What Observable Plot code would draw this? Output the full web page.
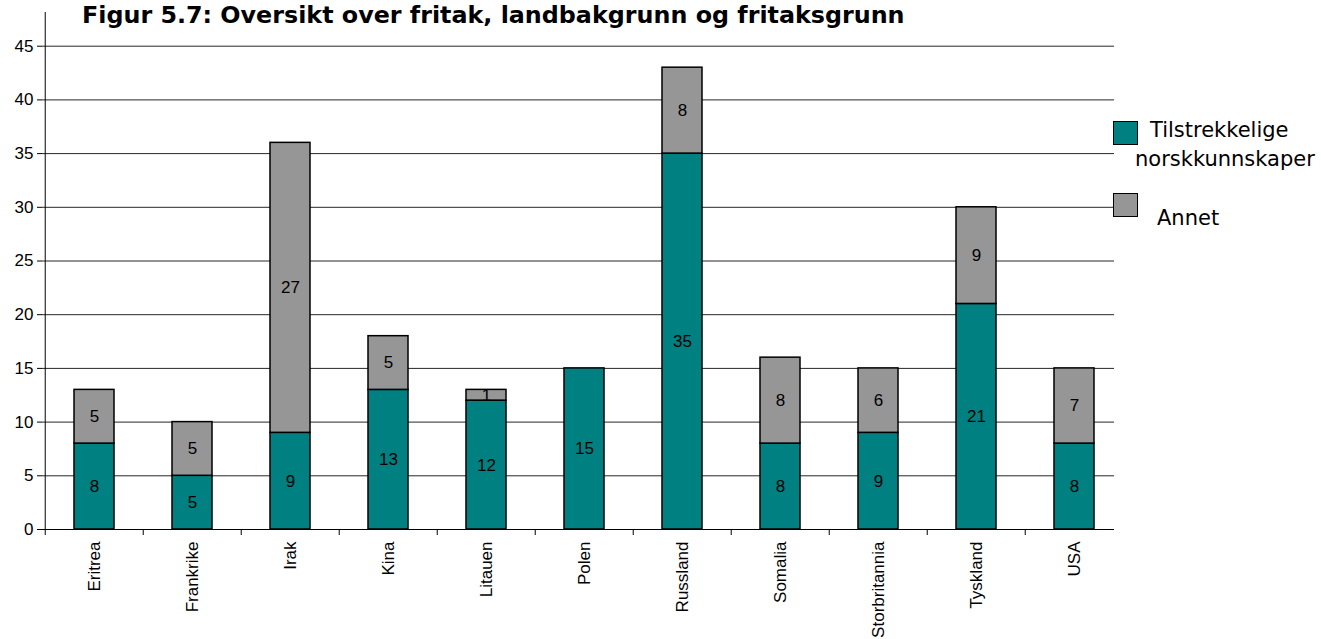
<!DOCTYPE html>
<html>
<head>
<meta charset="utf-8">
<script src="https://cdn.jsdelivr.net/npm/d3@7"></script>
<script src="https://cdn.jsdelivr.net/npm/@observablehq/plot@0.6"></script>
<style>
  html, body { margin: 0; padding: 0; background: #fff; }
  #wrap { position: relative; width: 1321px; height: 639px; overflow: hidden; background: #fff; }
  #chart { position: absolute; left: 0; top: 0; }
  #title { position: absolute; left: 82px; top: 3px; font: bold 23.8px "DejaVu Sans", Verdana, sans-serif; line-height: 24px; white-space: nowrap; color: #000; }
  .lg { position: absolute; font: 21px "DejaVu Sans", Verdana, sans-serif; line-height: 21px; white-space: nowrap; color: #000; }
  .sw { position: absolute; width: 23px; height: 22px; border: 1.5px solid #000; }
</style>
</head>
<body>
<div id="wrap">
  <div id="chart"></div>
  <div id="title">Figur 5.7: Oversikt over fritak, landbakgrunn og fritaksgrunn</div>
  <div class="sw" style="left:1113px; top:121px; background:#008080"></div>
  <div class="lg" style="left:1150px; top:120px">Tilstrekkelige</div>
  <div class="lg" style="left:1135px; top:149px">norskkunnskaper</div>
  <div class="sw" style="left:1113px; top:193px; background:#969696"></div>
  <div class="lg" style="left:1157px; top:208px">Annet</div>
</div>
<script>
const categories = ["Eritrea","Frankrike","Irak","Kina","Litauen","Polen","Russland","Somalia","Storbritannia","Tyskland","USA"];
const seriesNames = ["Tilstrekkelige norskkunnskaper", "Annet"];
const norskValues = [8, 5, 9, 13, 12, 15, 35, 8, 9, 21, 8];
const annetValues = [5, 5, 27, 5, 1, 0, 8, 8, 6, 9, 7];
const yTicks = [0, 5, 10, 15, 20, 25, 30, 35, 40, 45];
const seriesColors = ["#008080", "#969696"];

const data = [];
categories.forEach((c, i) => {
  data.push({country: c, series: seriesNames[0], value: norskValues[i]});
  data.push({country: c, series: seriesNames[1], value: annetValues[i]});
});

const step = (1126 - 42) / categories.length;

const plot = Plot.plot({
  width: 1321,
  height: 639,
  marginLeft: 42,
  marginRight: 207,
  marginTop: 12,
  marginBottom: 110,
  style: {fontFamily: '"Liberation Sans", Arial, sans-serif', fontSize: "17px", color: "#000", background: "#fff"},
  x: {type: "band", domain: categories, range: [42, 1126], paddingInner: 0.594, paddingOuter: 0.297, axis: null},
  y: {domain: [0, 45], range: [529, 45.7], axis: null},
  color: {domain: seriesNames, range: seriesColors},
  marks: [
    Plot.ruleY(yTicks.filter(t => t > 0), {stroke: "#000", strokeWidth: 1, strokeOpacity: 0.85}),
    Plot.barY(data, {x: "country", y: "value", fill: "series", stroke: "#000", strokeWidth: 1.5}),
    Plot.text(data.filter(d => d.value > 0), Plot.stackY({x: "country", y: "value", z: "series", text: d => String(d.value), fontSize: 17, fill: "#000"})),
    Plot.ruleY([0], {stroke: "#000", strokeWidth: 1}),
    Plot.ruleX([categories[0]], {dx: -step / 2, stroke: "#000", strokeWidth: 1}),
    Plot.ruleX(categories, {dx: -step / 2, insetTop: 517, insetBottom: -6, stroke: "#000", strokeWidth: 1}),
    Plot.axisY({ticks: yTicks, tickSize: 5, tickPadding: 4, fontSize: 17, label: null}),
    Plot.axisX({tickSize: 0, tickPadding: 12, tickRotate: -90, fontSize: 17, label: null})
  ]
});
document.getElementById("chart").appendChild(plot);
</script>
</body>
</html>
